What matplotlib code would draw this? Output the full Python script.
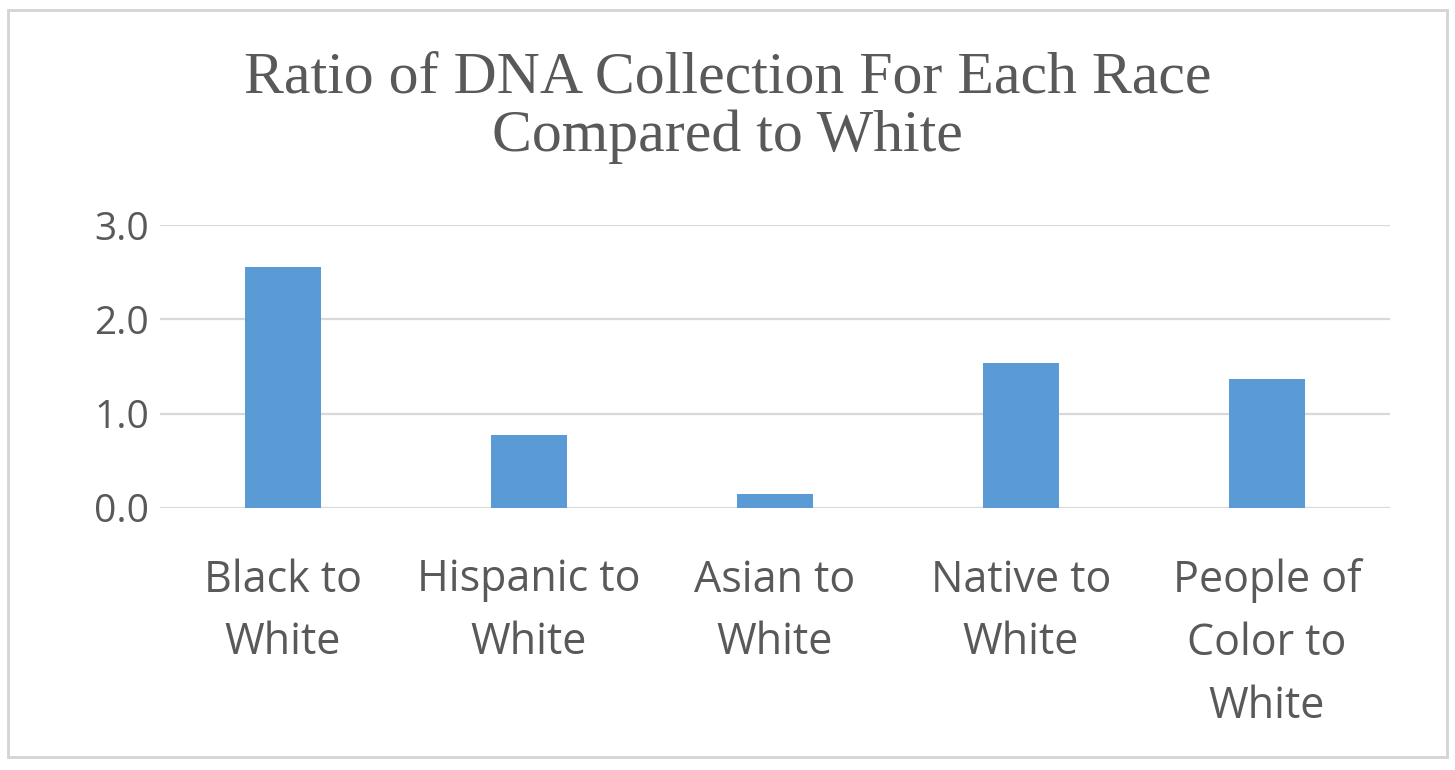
import matplotlib
matplotlib.use("Agg")
import matplotlib.pyplot as plt
from matplotlib.patches import Rectangle

categories = ["Black to\nWhite", "Hispanic to\nWhite", "Asian to\nWhite", "Native to\nWhite", "People of\nColor to\nWhite"]
values = [2.55, 0.77, 0.15, 1.54, 1.37]
yticks = [0.0, 1.0, 2.0, 3.0]
ytick_labels = ["0.0", "1.0", "2.0", "3.0"]
title = "Ratio of DNA Collection For Each Race\nCompared to White"

W, H, DPI = 1455, 770, 100
fig = plt.figure(figsize=(W / DPI, H / DPI), dpi=DPI)
fig.patch.set_facecolor("white")

# outer chart border
fig.patches.append(Rectangle((8 / W, 1 - 757 / H), (1447 - 8) / W, (757 - 10) / H,
                             transform=fig.transFigure, fill=False,
                             edgecolor="#D4D4D4", linewidth=2.0))

ax = fig.add_axes([160 / W, 1 - 508 / H, (1390 - 160) / W, (508 - 225) / H])
x = list(range(len(categories)))
ax.bar(x, values, width=0.31, color="#5B9BD5", zorder=3)
ax.set_xlim(-0.5, len(categories) - 0.5)
ax.set_ylim(0, 3)
ax.set_yticks(yticks)
ax.set_yticklabels(ytick_labels)
ax.set_xticks(x)
ax.set_xticklabels(categories, linespacing=1.55, va="top")
ax.grid(axis="y", color="#D9D9D9", linewidth=1.6, zorder=0)
for s in ax.spines.values():
    s.set_visible(False)
ax.tick_params(axis="both", length=0, colors="#595959")
ax.tick_params(axis="y", pad=8)
ax.tick_params(axis="x", pad=36)
for lab in ax.get_yticklabels():
    lab.set_fontfamily("Open Sans")
    lab.set_fontsize(28)
    lab.set_color("#595959")
for lab in ax.get_xticklabels():
    lab.set_fontfamily("Open Sans")
    lab.set_fontsize(31)
    lab.set_color("#595959")

fig.text(0.5, 1 - 108 / H, title, ha="center", va="center",
         fontfamily="Liberation Serif", fontsize=43, color="#595959",
         linespacing=1.1)

fig.savefig("out.png", dpi=DPI)
